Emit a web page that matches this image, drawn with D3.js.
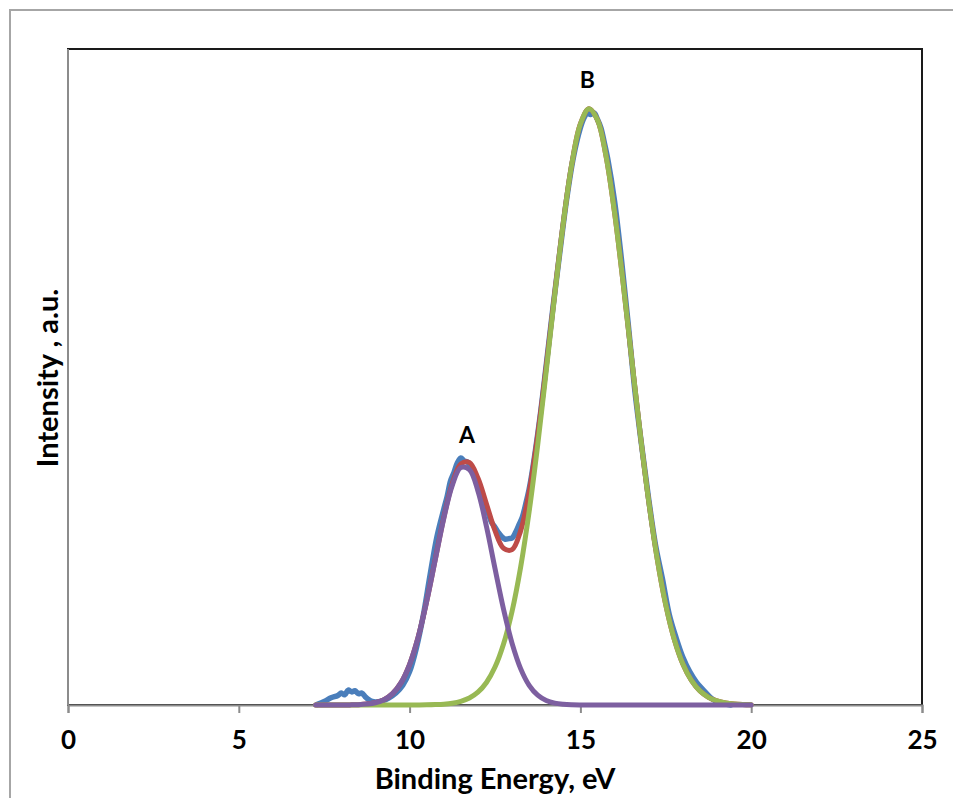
<!DOCTYPE html>
<html>
<head>
<meta charset="utf-8">
<script src="https://cdn.jsdelivr.net/npm/d3@7"></script>
<style>
  html, body { margin: 0; padding: 0; background: #fff; }
  svg { display: block; }
  text { font-family: Lato, "Open Sans", "Liberation Sans", sans-serif; font-weight: bold; fill: #000; }
</style>
</head>
<body>
<svg id="chart" width="953" height="798"></svg>
<script>
// ---- data ----
const xTicks = [0, 5, 10, 15, 20, 25];
const xTickLabels = ["0", "5", "10", "15", "20", "25"];
const xTitle = "Binding Energy, eV";
const yTitle = "Intensity , a.u.";
const peakLabels = ["A", "B"];
const peakLabelX = [11.68, 15.2];
const peakLabelY = [44.0, 103.4];

// experimental spectrum (blue)
const expX = [7.3, 7.5, 7.7, 7.9, 8.0, 8.1, 8.2, 8.3, 8.4, 8.5, 8.6, 8.7, 8.8, 8.9, 9.0, 9.2, 9.4, 9.6, 9.8,
  10.0, 10.2, 10.4, 10.6, 10.8, 11.0, 11.1, 11.2, 11.3, 11.4, 11.5, 11.6, 11.7, 11.8, 11.9, 12.0, 12.1, 12.2,
  12.3, 12.4, 12.5, 12.6, 12.7, 12.8, 12.9, 13.0, 13.1, 13.2, 13.3, 13.4, 13.5, 13.6, 13.8, 14.0, 14.2, 14.4,
  14.6, 14.8, 15.0, 15.1, 15.2, 15.3, 15.4, 15.5, 15.6, 15.7, 15.8, 16.0, 16.2, 16.4, 16.6, 16.8, 17.0, 17.2,
  17.4, 17.6, 17.8, 18.0, 18.2, 18.4, 18.6, 18.8, 19.0, 19.2, 19.4];
const expY = [0.1, 0.6, 1.2, 1.6, 2.0, 1.7, 2.5, 2.2, 2.4, 1.9, 2.0, 1.4, 0.9, 0.6, 0.5, 0.7, 1.2, 2.0, 3.3,
  5.6, 9.6, 15.0, 21.8, 28.2, 32.8, 35.0, 37.6, 39.0, 40.6, 41.4, 40.9, 40.7, 39.6, 38.4, 37.0, 35.1, 34.0,
  32.2, 30.6, 29.8, 28.9, 28.2, 27.8, 27.9, 28.0, 28.9, 30.2, 31.5, 33.7, 36.2, 39.5, 47.5, 57.0, 66.8, 76.0,
  84.9, 92.0, 96.8, 98.4, 99.2, 99.0, 99.3, 98.2, 96.8, 94.3, 91.6, 84.5, 74.8, 63.9, 52.4, 43.2, 34.5, 26.8,
  21.2, 15.2, 11.3, 8.0, 5.6, 3.8, 2.5, 1.3, 0.5, 0.2, 0.0];

// fitted curves, sampled every 0.25 eV
const fitX = [7.25, 7.5, 7.75, 8.0, 8.25, 8.5, 8.75, 9.0, 9.25, 9.5, 9.75, 10.0, 10.25, 10.5, 10.75, 11.0,
  11.25, 11.5, 11.75, 12.0, 12.25, 12.5, 12.75, 13.0, 13.25, 13.5, 13.75, 14.0, 14.25, 14.5, 14.75, 15.0,
  15.25, 15.5, 15.75, 16.0, 16.25, 16.5, 16.75, 17.0, 17.25, 17.5, 17.75, 18.0, 18.25, 18.5, 18.75, 19.0,
  19.25, 19.5, 19.75, 20.0];
// peak A component (purple)
const peakA = [0, 0, 0, 0.01, 0.02, 0.05, 0.15, 0.37, 0.88, 1.90, 3.75, 6.82, 11.36, 17.36, 24.32, 31.26,
  36.84, 39.82, 39.48, 35.90, 29.93, 22.89, 16.06, 10.33, 6.10, 3.30, 1.64, 0.75, 0.31, 0.12, 0.04, 0.01,
  0, 0, 0, 0, 0, 0, 0, 0, 0, 0, 0, 0, 0, 0, 0, 0, 0, 0, 0, 0];
// peak B component (green)
const peakB = [0, 0, 0, 0, 0, 0, 0, 0, 0, 0, 0, 0.005, 0.01, 0.03, 0.07, 0.14, 0.30, 0.61, 1.17, 2.15,
  3.78, 6.36, 10.23, 15.72, 23.10, 32.47, 43.62, 56.03, 68.83, 80.82, 90.75, 97.42, 99.99, 98.12, 92.06,
  82.59, 70.83, 58.09, 45.54, 34.14, 24.47, 16.77, 10.99, 6.88, 4.12, 2.36, 1.29, 0.68, 0.34, 0.16, 0.07, 0.03];
// total fit (red)
const fitSum = [0, 0, 0, 0.01, 0.02, 0.05, 0.15, 0.37, 0.88, 1.90, 3.75, 6.82, 11.37, 17.39, 24.39, 31.40,
  37.14, 40.43, 40.65, 38.05, 33.71, 29.25, 26.29, 26.05, 29.20, 35.77, 45.26, 56.78, 69.14, 80.94, 90.79,
  97.43, 99.99, 98.12, 92.06, 82.59, 70.83, 58.09, 45.54, 34.14, 24.47, 16.77, 10.99, 6.88, 4.12, 2.36,
  1.29, 0.68, 0.34, 0.16, 0.07, 0.03];

const colors = { exp: "#4A7EBB", sum: "#BE4B48", A: "#7D5FA0", B: "#98B954" };

// ---- drawing ----
const svg = d3.select("#chart");
const pL = 68, pR = 922, pT = 49, pB = 705;
const x = d3.scaleLinear().domain([0, 25]).range([pL, pR]);
const y = d3.scaleLinear().domain([0, 110]).range([pB, pT]);

// outer chart border
svg.append("rect").attr("x", 10).attr("y", 10).attr("width", 980).attr("height", 820)
  .attr("fill", "none").attr("stroke", "#a6a6a6").attr("stroke-width", 2);

// plot area border
svg.append("rect").attr("x", pL).attr("y", pT).attr("width", pR - pL).attr("height", pB - pT)
  .attr("fill", "none").attr("stroke", "#1a1a1a").attr("stroke-width", 2);

// y axis line (no ticks)
svg.append("line").attr("x1", pL).attr("x2", pL).attr("y1", pT).attr("y2", pB)
  .attr("stroke", "#8c8c8c").attr("stroke-width", 2);

// x axis
const xAxis = d3.axisBottom(x).tickValues(xTicks).tickFormat((d, i) => xTickLabels[i]).tickSize(8).tickPadding(18);
const gx = svg.append("g").attr("transform", `translate(0,${pB})`).call(xAxis);
gx.select(".domain").attr("stroke", "#8c8c8c").attr("stroke-width", 2);
gx.selectAll(".tick line").attr("stroke", "#8c8c8c").attr("stroke-width", 2);
gx.selectAll(".tick text").style("font-size", "26px").style("font-family", "Lato, 'Open Sans', sans-serif")
  .style("font-weight", "bold").attr("fill", "#000");

// lines
const mk = (xs) => d3.line().x((d, i) => x(xs[i])).y(d => y(d)).curve(d3.curveCatmullRom.alpha(0.5));
const drawLine = (xs, ys, col, w) => svg.append("path").datum(ys).attr("d", mk(xs))
  .attr("fill", "none").attr("stroke", col).attr("stroke-width", w)
  .attr("stroke-linejoin", "round").attr("stroke-linecap", "round");

drawLine(expX, expY, colors.exp, 5.5);
drawLine(fitX, fitSum, colors.sum, 5);
drawLine(fitX, peakB, colors.B, 5);
drawLine(fitX, peakA, colors.A, 5);

// peak labels
svg.selectAll(".plab").data(peakLabels).enter().append("text")
  .attr("class", "plab")
  .attr("x", (d, i) => x(peakLabelX[i])).attr("y", (d, i) => y(peakLabelY[i]))
  .attr("text-anchor", "middle").style("font-size", "23px").text(d => d);

// axis titles
svg.append("text").attr("x", 495).attr("y", 789).attr("text-anchor", "middle")
  .style("font-size", "29px").text(xTitle);
svg.append("text").attr("transform", "translate(58,378) rotate(-90)").attr("text-anchor", "middle")
  .style("font-size", "29px").text(yTitle);
</script>
</body>
</html>
